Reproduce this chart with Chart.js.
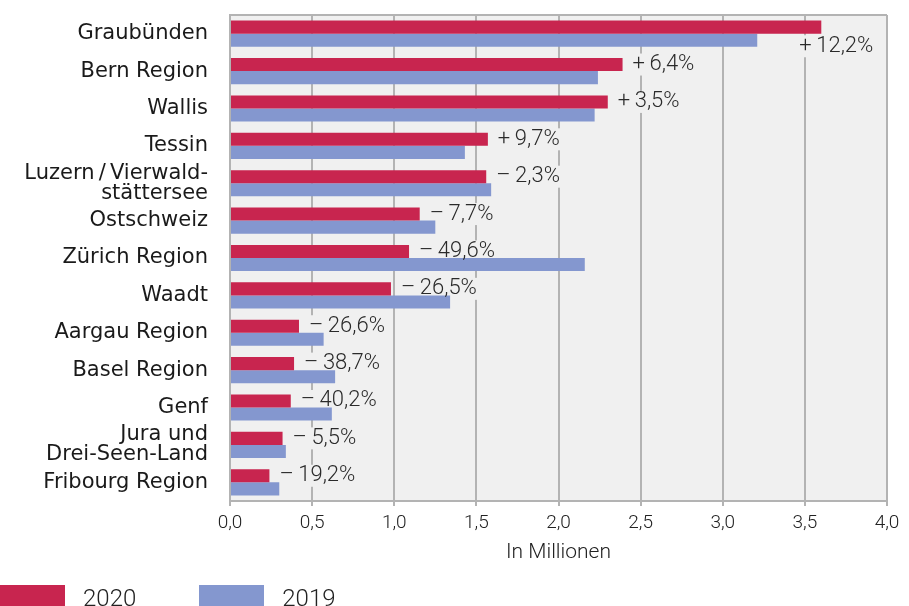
<!DOCTYPE html>
<html>
<head>
<meta charset="utf-8">
<script src="https://cdn.jsdelivr.net/npm/chart.js@4.4.1/dist/chart.umd.min.js"></script>
<style>
  html, body { margin: 0; padding: 0; overflow: hidden; background: #fff; }
  #wrap { position: relative; width: 909px; height: 606px; }
  #legend { position: absolute; left: 0; top: 585px; display: flex; align-items: flex-start;
            font: 300 24px Roboto, sans-serif; color: #222; }
  #legend .item { display: flex; align-items: flex-start; margin-right: 63px; }
  #legend .box { width: 65px; height: 26px; margin-right: 18px; }
  #legend span { line-height: 26px; }
</style>
</head>
<body>
<div id="wrap">
  <canvas id="chart" width="909" height="606"></canvas>
  <div id="legend"></div>
</div>
<script>
const regions = [
  'Graubünden', 'Bern Region', 'Wallis', 'Tessin',
  ['Luzern\u2009/\u2009Vierwald-', 'stättersee'],
  'Ostschweiz', 'Zürich Region', 'Waadt', 'Aargau Region',
  'Basel Region', 'Genf', ['Jura und', 'Drei-Seen-Land'], 'Fribourg Region'
];
const values2020 = [3.60, 2.39, 2.30, 1.57, 1.56, 1.155, 1.09, 0.98, 0.42, 0.39, 0.37, 0.32, 0.24];
const values2019 = [3.21, 2.24, 2.22, 1.43, 1.59, 1.25, 2.16, 1.34, 0.57, 0.64, 0.62, 0.34, 0.30];
const changes = [12.2, 6.4, 3.5, 9.7, -2.3, -7.7, -49.6, -26.5, -26.6, -38.7, -40.2, -5.5, -19.2];
const xTicks = [0, 0.5, 1, 1.5, 2, 2.5, 3, 3.5, 4];

const RED = '#c8254f';
const BLUE = '#8497cf';
const PLOT_BG = '#f0f0f0';
const GRID = '#b3b3b3';
const LABEL_FONT = '300 22px Roboto';

function fmtChange(v) {
  const sign = v >= 0 ? '+' : '\u2013';
  return sign + '\u2009' + Math.abs(v).toFixed(1).replace('.', ',') + '%';
}

// where each change label goes (next to the 2020 bar)
function labelPos(chart, i) {
  const bar = chart.getDatasetMeta(0).data[i];
  if (i === 0) { // no room to the right of the longest bar
    return { x: bar.x - 22, y: chart.getDatasetMeta(1).data[i].y + 6 };
  }
  return { x: bar.x + 10, y: bar.y };
}

// plot background + top frame line
const plotFrame = {
  id: 'plotFrame',
  beforeDraw(chart) {
    const { ctx, chartArea: a } = chart;
    ctx.save();
    ctx.fillStyle = PLOT_BG;
    ctx.fillRect(a.left, a.top, a.right - a.left, a.bottom - a.top);
    ctx.restore();
  },
  afterDraw(chart) {
    const { ctx, chartArea: a } = chart;
    ctx.save();
    ctx.strokeStyle = GRID;
    ctx.lineWidth = 2;
    ctx.beginPath();
    ctx.moveTo(a.left, a.top);
    ctx.lineTo(a.right, a.top);
    ctx.stroke();
    ctx.restore();
  }
};

// percentage change labels; the background patch hides the grid line behind the text
const changeLabels = {
  id: 'changeLabels',
  beforeDatasetsDraw(chart) {
    const ctx = chart.ctx;
    ctx.save();
    ctx.font = LABEL_FONT;
    ctx.fillStyle = PLOT_BG;
    changes.forEach((c, i) => {
      const p = labelPos(chart, i);
      const w = ctx.measureText(fmtChange(c)).width;
      ctx.fillRect(p.x - 3, p.y - 11, w + 6, 22);
    });
    ctx.restore();
  },
  afterDatasetsDraw(chart) {
    const ctx = chart.ctx;
    ctx.save();
    ctx.font = LABEL_FONT;
    ctx.textBaseline = 'middle';
    ctx.textAlign = 'left';
    ctx.fillStyle = '#2a2a2a';
    changes.forEach((c, i) => {
      const p = labelPos(chart, i);
      ctx.fillText(fmtChange(c), p.x, p.y);
    });
    ctx.restore();
  }
};

const chart = new Chart(document.getElementById('chart'), {
  type: 'bar',
  data: {
    labels: regions,
    datasets: [
      { label: '2020', data: values2020, backgroundColor: RED },
      { label: '2019', data: values2019, backgroundColor: BLUE }
    ]
  },
  options: {
    indexAxis: 'y',
    responsive: false,
    animation: false,
    layout: { padding: { top: 15, right: 22, bottom: 0, left: 0 } },
    datasets: { bar: { categoryPercentage: 0.7, barPercentage: 1 } },
    plugins: {
      legend: { display: false },
      tooltip: { enabled: false }
    },
    scales: {
      x: {
        min: 0,
        max: 4,
        afterBuildTicks: s => { s.ticks = xTicks.map(v => ({ value: v })); },
        afterFit: s => { s.height = 105; },
        grid: { color: GRID, lineWidth: 2, tickLength: 5, drawTicks: true },
        border: { color: GRID, width: 2 },
        ticks: {
          padding: 6,
          color: '#222',
          font: { family: 'Roboto', size: 19, weight: 300 },
          callback: v => Number(v).toFixed(1).replace('.', ',')
        },
        title: {
          display: true,
          text: 'In Millionen',
          color: '#222',
          font: { family: 'Roboto', size: 21, weight: 300 },
          padding: { top: 0, bottom: 41 }
        }
      },
      y: {
        afterFit: s => {
          s.width = 230;
          s.paddingTop = 0;
          s.paddingBottom = 0;
        },
        grid: { display: false, drawTicks: false },
        border: { color: GRID, width: 2 },
        ticks: {
          autoSkip: false,
          padding: 22,
          color: '#1a1a1a',
          font: { family: 'DejaVu Sans', size: 21, lineHeight: 0.95 }
        }
      }
    }
  },
  plugins: [plotFrame, changeLabels]
});

// legend below the chart
const legend = document.getElementById('legend');
chart.data.datasets.forEach(ds => {
  const item = document.createElement('div');
  item.className = 'item';
  item.innerHTML = '<div class="box" style="background:' + ds.backgroundColor + '"></div><span>' + ds.label + '</span>';
  legend.appendChild(item);
});
</script>
</body>
</html>
